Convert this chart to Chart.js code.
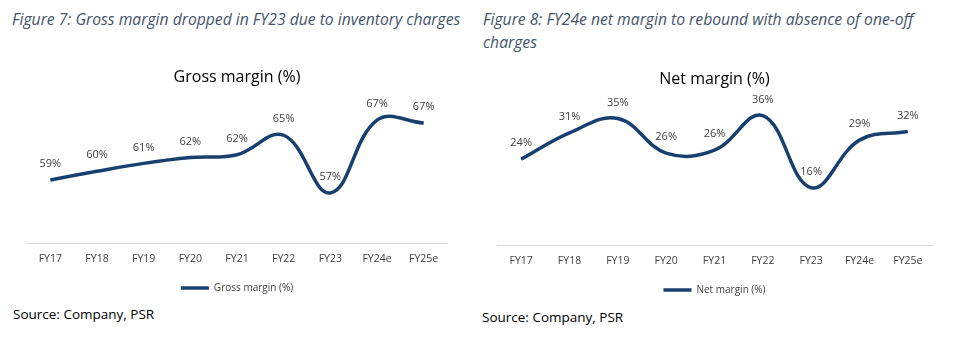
<!DOCTYPE html>
<html>
<head>
<meta charset="utf-8">
<script src="https://cdn.jsdelivr.net/npm/chart.js@4.4.1/dist/chart.umd.min.js"></script>
<style>
  body { margin: 0; background: #fff; width: 969px; height: 337px; position: relative; overflow: hidden; font-family: 'Open Sans', sans-serif; }
  .fig { position: absolute; font-style: italic; color: #44546A; font-size: 15.7px; line-height: 23px; }
  .src { position: absolute; color: #000; font-size: 13.5px; }
  .box { position: absolute; }
</style>
</head>
<body>
<div class="fig" style="left:12px; top:8px;">Figure 7: Gross margin dropped in FY23 due to inventory charges</div>
<div class="fig" style="left:483px; top:8px; width:460px;">Figure 8: FY24e net margin to rebound with absence of one-off charges</div>

<div class="box" style="left:0; top:58px; width:470px; height:245px;"><canvas id="grossChart"></canvas></div>
<div class="box" style="left:470px; top:60px; width:480px; height:245px;"><canvas id="netChart"></canvas></div>

<div class="src" style="left:13px; top:305px;">Source: Company, PSR</div>
<div class="src" style="left:482px; top:308px;">Source: Company, PSR</div>

<script>
const years = ['FY17', 'FY18', 'FY19', 'FY20', 'FY21', 'FY22', 'FY23', 'FY24e', 'FY25e'];
const grossMargin = [58.8, 60.0, 61.1, 61.9, 62.3, 65.0, 57.0, 67.1, 66.7];
const netMargin = [23.9, 31.2, 35.2, 25.6, 26.4, 36.0, 16.0, 29.2, 31.6];

const lineColor = '#17406F';
const font = "'Open Sans', sans-serif";

// little plugin to print the % above each point
const pointLabels = {
    id: 'pointLabels',
    afterDatasetsDraw(chart) {
        const ctx = chart.ctx;
        const meta = chart.getDatasetMeta(0);
        const vals = chart.data.datasets[0].data;
        ctx.save();
        ctx.fillStyle = '#404040';
        ctx.font = "11px " + font;
        ctx.textAlign = 'center';
        ctx.textBaseline = 'middle';
        meta.data.forEach((pt, i) => {
            ctx.fillText(Math.round(vals[i]) + '%', pt.x, pt.y - 16);
        });
        ctx.restore();
    }
};

function makeChart(id, title, label, values, yMin, yMax, pad) {
    return new Chart(document.getElementById(id), {
        type: 'line',
        data: {
            labels: years,
            datasets: [{
                label: label,
                data: values,
                borderColor: lineColor,
                backgroundColor: lineColor,
                borderWidth: 3.5,
                tension: 0.4,
                pointRadius: 0,
                fill: false
            }]
        },
        options: {
            responsive: true,
            maintainAspectRatio: false,
            animation: false,
            layout: { padding: pad },
            plugins: {
                title: {
                    display: true,
                    text: title,
                    color: '#000',
                    font: { family: font, size: 16, weight: 'normal' },
                    padding: { top: 10, bottom: 12 }
                },
                legend: {
                    position: 'bottom',
                    labels: {
                        usePointStyle: true,
                        pointStyle: 'line',
                        pointStyleWidth: 28,
                        color: '#404040',
                        font: { family: font, size: 10 },
                        padding: 9
                    }
                },
                tooltip: { enabled: false }
            },
            scales: {
                x: {
                    offset: true,
                    grid: { display: false, drawTicks: false },
                    border: { display: true, color: '#D9D9D9', width: 1 },
                    ticks: { color: '#404040', font: { family: font, size: 10.5 }, padding: 9 }
                },
                y: {
                    display: false,
                    min: yMin,
                    max: yMax
                }
            }
        },
        plugins: [pointLabels]
    });
}

makeChart('grossChart', 'Gross margin (%)', 'Gross margin (%)', grossMargin, 50, 70, { left: 27, right: 23, top: 0, bottom: 0 });
makeChart('netChart', 'Net margin (%)', 'Net margin (%)', netMargin, 0, 40, { left: 27, right: 18, top: 0, bottom: 0 });
</script>
</body>
</html>
